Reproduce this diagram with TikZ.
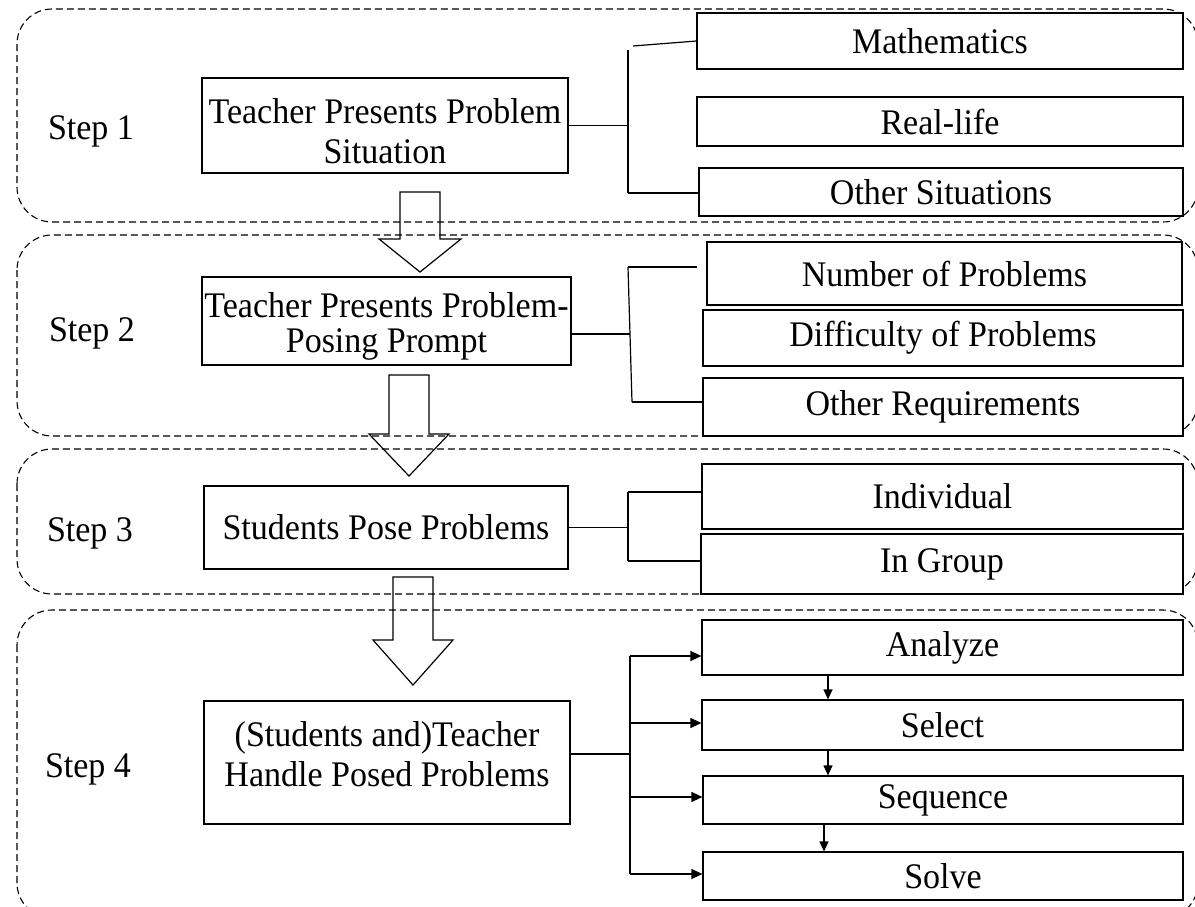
\documentclass[tikz,border=0pt]{standalone}
\usepackage{fontspec}
\setmainfont{Liberation Serif}[FakeStretch=0.945]
\usetikzlibrary{arrows.meta,calc}
\begin{document}
\begin{tikzpicture}[x=1pt,y=-1pt,
  every node/.style={font=\fontsize{36}{40}\selectfont},
  box/.style={draw,fill=white,line width=1.2pt,inner sep=0pt,align=center},
  boxtext/.style={align=center,inner sep=0pt},
  zone/.style={draw,black,dash pattern=on 7pt off 4pt,line width=1.1pt,rounded corners=35pt},
  link/.style={line width=1.2pt},
  arr/.style={line width=1.2pt,-{Triangle[length=11pt,width=10pt]}},
  smallarr/.style={line width=1.2pt,-{Triangle[length=10pt,width=9pt]}},
  blockarrow/.style={draw,line width=1.2pt,line join=miter},
  steplabel/.style={anchor=base}
]
\useasboundingbox (0,0) rectangle (1195,906);

% dashed zones
\draw[zone] (17,9) rectangle (1198,222);
\draw[zone] (17,235) rectangle (1198,436);
\draw[zone] (17,449) rectangle (1198,594);
\draw[zone] (17,610) rectangle (1198,918);

% step labels
\node[steplabel] (s1) at (91,139) {Step 1};
\node[steplabel] (s2) at (92,341) {Step 2};
\node[steplabel] (s3) at (90,541) {Step 3};
\node[steplabel] (s4) at (88,777) {Step 4};

% main boxes
\node[box,minimum width=366pt,minimum height=95pt] (b1) at (385,125.5) {};
\node[boxtext] (t1) at ($(b1)+(0,6)$) {Teacher Presents Problem\\Situation};
\node[box,minimum width=369pt,minimum height=88pt] (b2) at (386.5,321) {};
\node[boxtext,font=\fontsize{36}{35}\selectfont] (t2) at ($(b2)+(0,5)$) {Teacher Presents Problem-\\Posing Prompt};
\node[box,minimum width=364pt,minimum height=83pt] (b3) at (386,527.5) {Students Pose Problems};
\node[box,minimum width=366pt,minimum height=123pt] (b4) at (387,762.5) {};
\node[boxtext] (t4) at ($(b4)+(0,-8)$) {(Students and)Teacher\\Handle Posed Problems};

% right boxes
\node[box,minimum width=486pt,minimum height=56pt] (m) at (940,41) {Mathematics};
\node[box,minimum width=486pt,minimum height=49pt] (r) at (940,121.5) {Real-life};
\node[box,minimum width=484pt,minimum height=48pt] (os) at (941,192) {Other Situations};

\node[box,minimum width=475pt,minimum height=63pt] (n) at (944.5,273.5) {Number of Problems};
\node[box,minimum width=480pt,minimum height=56pt] (d) at (943,338) {Difficulty of Problems};
\node[box,minimum width=480pt,minimum height=58pt] (or) at (943,407) {Other Requirements};

\node[box,minimum width=481pt,minimum height=65pt] (i) at (942.5,496.5) {Individual};
\node[box,minimum width=482pt,minimum height=60pt] (g) at (942,564) {In Group};

\node[box,minimum width=481pt,minimum height=55pt] (a) at (942.5,647.5) {Analyze};
\node[box,minimum width=481pt,minimum height=50pt] (sel) at (942.5,725) {Select};
\node[box,minimum width=480pt,minimum height=48pt] (q) at (943,800) {Sequence};
\node[box,minimum width=480pt,minimum height=48pt] (v) at (943,876) {Solve};

% block arrows
\draw[blockarrow] (400,192) -- (440,192) -- (440,239) -- (461,239) -- (420,272) -- (379,239) -- (400,239) -- cycle;
\draw[blockarrow] (389,375) -- (429,375) -- (429,434) -- (449,434) -- (409,476) -- (369,434) -- (389,434) -- cycle;
\draw[blockarrow] (393,577) -- (433,577) -- (433,640) -- (453,640) -- (413,685) -- (373,640) -- (393,640) -- cycle;

% bracket 1
\coordinate (k1t) at (628,50);
\coordinate (k1b) at (628,193);
\coordinate (k1s) at (633,46);
\draw[link] (k1t) -- (k1b);
\draw[link] (b1.east) -- (b1.east -| k1t);
\draw[link] (k1s) -- (m.west);
\draw[link] (k1b) -- (k1b -| os.west);

% bracket 2
\coordinate (k2t) at (628,267);
\coordinate (k2b) at (632,402);
\coordinate (k2m) at (630,334);
\draw[link] (k2t) -- (k2b);
\draw[link] (b2.east |- k2m) -- (k2m);
\draw[link] (k2t) -- ($(n.west)+(-9,-6.5)$);
\draw[link] (k2b) -- (k2b -| or.west);

% bracket 3
\coordinate (k3t) at (628,492);
\coordinate (k3b) at (628,561);
\draw[link] (k3t) -- (k3b);
\draw[link] (b3.east) -- (b3.east -| k3t);
\draw[link] (k3t) -- (k3t -| i.west);
\draw[link] (k3b) -- (k3b -| g.west);

% bracket 4
\coordinate (k4t) at (630,656);
\coordinate (k4b) at (630,874);
\coordinate (k4m) at (630,754);
\draw[link] (k4t) -- (k4b);
\draw[link] (b4.east |- k4m) -- (k4m);
\draw[arr] (k4t) -- (k4t -| a.west);
\draw[arr] ($(k4t |- sel.west)+(0,-2)$) -- ($(sel.west)+(0,-2)$);
\draw[arr] ($(k4t |- q.west)+(0,-3)$) -- ($(q.west)+(0,-3)$);
\draw[arr] (k4b) -- (k4b -| v.west);

% small arrows
\coordinate (xa) at (828,0);
\coordinate (xb) at (824,0);
\draw[smallarr] (a.south -| xa) -- (sel.north -| xa);
\draw[smallarr] (sel.south -| xa) -- (q.north -| xa);
\draw[smallarr] (q.south -| xb) -- (v.north -| xb);
\end{tikzpicture}
\end{document}
